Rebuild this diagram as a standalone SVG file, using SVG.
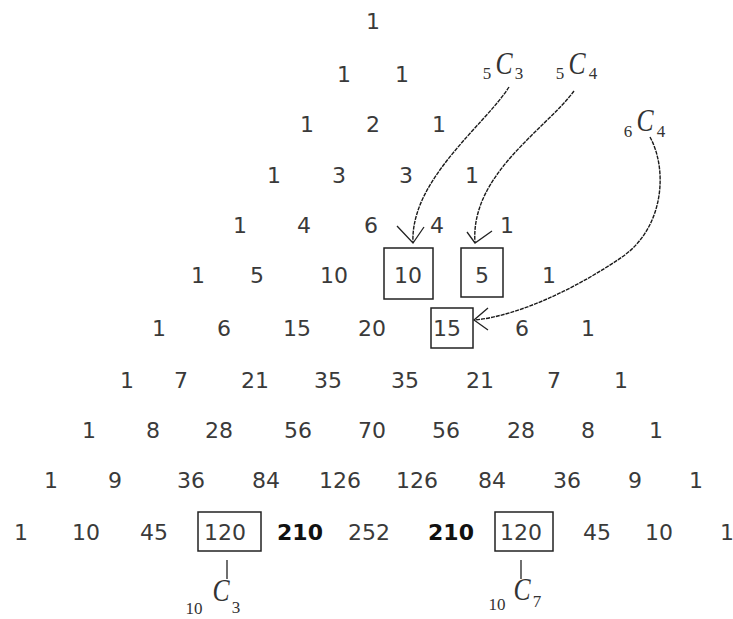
<svg xmlns="http://www.w3.org/2000/svg" width="733" height="619" viewBox="0 0 733 619">
<style>
.n{font-family:"DejaVu Sans",sans-serif;font-size:22px;fill:#3a3a3a;text-anchor:middle}
.b{font-weight:bold;fill:#111}
.bx{fill:none;stroke:#222;stroke-width:1.5}
.c{stroke:#1a1a1a;stroke-width:1.4;fill:none;stroke-dasharray:4 1}
.h{stroke:#222;stroke-width:1.3;fill:none}
.mi{font-family:"Liberation Serif",serif;font-style:italic;font-size:32px;fill:#333;text-anchor:middle}
.ms{font-family:"Liberation Serif",serif;font-size:17px;fill:#333;text-anchor:middle}
</style>
<rect width="733" height="619" fill="#fff"/>
<g id="row0"><g id="n0_0"><text class="n" x="373" y="29">1</text></g></g>
<g id="row1"><g id="n1_0"><text class="n" x="344" y="82">1</text></g><g id="n1_1"><text class="n" x="402" y="82">1</text></g></g>
<g id="row2"><g id="n2_0"><text class="n" x="307" y="132">1</text></g><g id="n2_1"><text class="n" x="373" y="132">2</text></g><g id="n2_2"><text class="n" x="439" y="132">1</text></g></g>
<g id="row3"><g id="n3_0"><text class="n" x="274" y="183">1</text></g><g id="n3_1"><text class="n" x="339" y="183">3</text></g><g id="n3_2"><text class="n" x="406" y="183">3</text></g><g id="n3_3"><text class="n" x="472" y="183">1</text></g></g>
<g id="row4"><g id="n4_0"><text class="n" x="240" y="233">1</text></g><g id="n4_1"><text class="n" x="304" y="233">4</text></g><g id="n4_2"><text class="n" x="371" y="233">6</text></g><g id="n4_3"><text class="n" x="437" y="233">4</text></g><g id="n4_4"><text class="n" x="507" y="233">1</text></g></g>
<g id="row5"><g id="n5_0"><text class="n" x="198" y="283">1</text></g><g id="n5_1"><text class="n" x="257" y="283">5</text></g><g id="n5_2"><text class="n" x="334" y="283">10</text></g>
<g id="n5_3"><rect class="bx" x="384" y="248" width="49" height="51"/><text class="n" x="408" y="283">10</text></g>
<g id="n5_4"><rect class="bx" x="461" y="248" width="42" height="49"/><text class="n" x="482" y="283">5</text></g>
<g id="n5_5"><text class="n" x="549" y="283">1</text></g></g>
<g id="row6"><g id="n6_0"><text class="n" x="159" y="336">1</text></g><g id="n6_1"><text class="n" x="224" y="336">6</text></g><g id="n6_2"><text class="n" x="297" y="336">15</text></g><g id="n6_3"><text class="n" x="372" y="336">20</text></g>
<g id="n6_4"><rect class="bx" x="431" y="308" width="42" height="40"/><text class="n" x="447" y="336">15</text></g>
<g id="n6_5"><text class="n" x="522" y="336">6</text></g><g id="n6_6"><text class="n" x="588" y="336">1</text></g></g>
<g id="row7"><g id="n7_0"><text class="n" x="127" y="388">1</text></g><g id="n7_1"><text class="n" x="181" y="388">7</text></g><g id="n7_2"><text class="n" x="255" y="388">21</text></g><g id="n7_3"><text class="n" x="328" y="388">35</text></g><g id="n7_4"><text class="n" x="405" y="388">35</text></g><g id="n7_5"><text class="n" x="480" y="388">21</text></g><g id="n7_6"><text class="n" x="554" y="388">7</text></g><g id="n7_7"><text class="n" x="621" y="388">1</text></g></g>
<g id="row8"><g id="n8_0"><text class="n" x="89" y="438">1</text></g><g id="n8_1"><text class="n" x="153" y="438">8</text></g><g id="n8_2"><text class="n" x="219" y="438">28</text></g><g id="n8_3"><text class="n" x="298" y="438">56</text></g><g id="n8_4"><text class="n" x="372" y="438">70</text></g><g id="n8_5"><text class="n" x="446" y="438">56</text></g><g id="n8_6"><text class="n" x="521" y="438">28</text></g><g id="n8_7"><text class="n" x="588" y="438">8</text></g><g id="n8_8"><text class="n" x="656" y="438">1</text></g></g>
<g id="row9"><g id="n9_0"><text class="n" x="51" y="488">1</text></g><g id="n9_1"><text class="n" x="115" y="488">9</text></g><g id="n9_2"><text class="n" x="191" y="488">36</text></g><g id="n9_3"><text class="n" x="266" y="488">84</text></g><g id="n9_4"><text class="n" x="340" y="488">126</text></g><g id="n9_5"><text class="n" x="417" y="488">126</text></g><g id="n9_6"><text class="n" x="492" y="488">84</text></g><g id="n9_7"><text class="n" x="567" y="488">36</text></g><g id="n9_8"><text class="n" x="635" y="488">9</text></g><g id="n9_9"><text class="n" x="696" y="488">1</text></g></g>
<g id="row10"><g id="n10_0"><text class="n" x="21" y="540">1</text></g><g id="n10_1"><text class="n" x="86" y="540">10</text></g><g id="n10_2"><text class="n" x="154" y="540">45</text></g>
<g id="n10_3"><rect class="bx" x="198" y="512" width="63" height="39"/><text class="n" x="225" y="540">120</text></g>
<g id="n10_4"><text class="n b" x="300" y="540">210</text></g><g id="n10_5"><text class="n" x="369" y="540">252</text></g><g id="n10_6"><text class="n b" x="451" y="540">210</text></g>
<g id="n10_7"><rect class="bx" x="495" y="512" width="58" height="39"/><text class="n" x="521" y="540">120</text></g>
<g id="n10_8"><text class="n" x="597" y="540">45</text></g><g id="n10_9"><text class="n" x="659" y="540">10</text></g><g id="n10_10"><text class="n" x="727" y="540">1</text></g></g>
<g id="label_5C3"><text class="ms" x="487" y="79">5</text><text class="mi" transform="translate(504,74) scale(0.8,1)">C</text><text class="ms" x="519" y="79">3</text></g>
<g id="label_5C4"><text class="ms" x="560" y="79">5</text><text class="mi" transform="translate(577,74) scale(0.8,1)">C</text><text class="ms" x="593" y="79">4</text></g>
<g id="label_6C4"><text class="ms" x="628" y="137">6</text><text class="mi" transform="translate(645,131) scale(0.8,1)">C</text><text class="ms" x="661" y="137">4</text></g>
<g id="label_10C3"><text class="ms" x="194" y="614">10</text><text class="mi" transform="translate(221,601) scale(0.8,1)">C</text><text class="ms" x="236" y="613">3</text></g>
<g id="label_10C7"><text class="ms" x="497" y="610">10</text><text class="mi" transform="translate(522,600) scale(0.8,1)">C</text><text class="ms" x="537" y="607">7</text></g>
<g id="connectors">
<path class="c" d="M509,87 C485,125 410,180 413,243"/>
<path class="h" d="M397,226 L413,243 L424,227"/>
<path class="c" d="M574,91 C545,130 470,175 475,243"/>
<path class="h" d="M467,232 L475,243 L492,231"/>
<path class="c" d="M650,137 C668,170 664,228 622,257 S520,316 474,320"/>
<path class="h" d="M488,308 L474,320 L488,330"/>
<line class="h" x1="227" y1="560" x2="227" y2="579"/>
<line class="h" x1="521" y1="560" x2="521" y2="579"/>
</g>
</svg>
